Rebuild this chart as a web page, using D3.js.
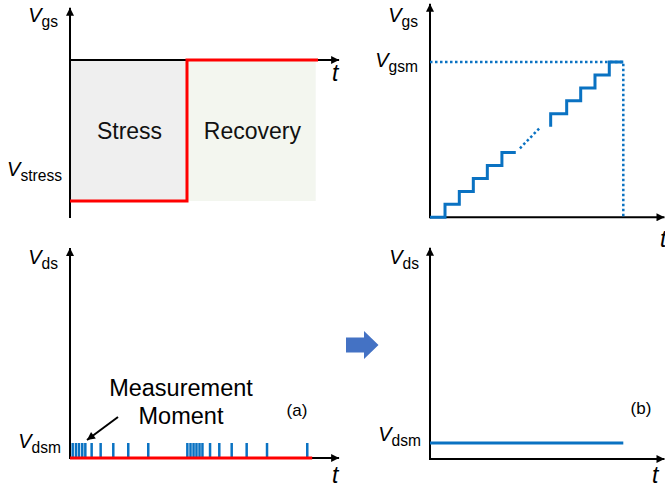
<!DOCTYPE html>
<html>
<head>
<meta charset="utf-8">
<script src="https://cdn.jsdelivr.net/npm/d3@7"></script>
<style>
  body { margin: 0; background: #fff; }
  svg { display: block; font-family: "Liberation Sans", Arial, sans-serif; }
</style>
</head>
<body>
<div id="app"></div>
<script>
// (a) stress / recovery: gate pulse, time in units of the stress length
const gateTimes = [0, 1, 1, 2.12];
const gateLevels = [-1, -1, 0, 0];
const phaseNames = ['Stress', 'Recovery'];
const phaseStarts = [0, 1];
const phaseEnds = [1, 2.1];
// moments where Vds is pulsed to Vdsm
const measureTimes = [0.023, 0.051, 0.077, 0.105, 0.131, 0.185, 0.262, 0.37, 0.498, 0.669,
  1.003, 1.03, 1.056, 1.081, 1.107, 1.132, 1.197, 1.276, 1.382, 1.51, 1.684, 2.028];
const drainTimes = [0, 2.07];
const drainLevels = [0, 0];

// (b) staircase sweep of Vgs up to Vgsm, Vds held at Vdsm
const sweepLowTimes = [0, 1.05, 2.05, 3.03, 4.01, 5.03, 6.0];
const sweepLowLevels = [0, 0, 1, 2, 3, 4, 5];
const sweepHighTimes = [8.44, 9.56, 10.54, 11.54, 12.54, 13.52];
const sweepHighLevels = [7, 8, 9, 10, 11, 12];
const gapTimes = [6.29, 7.69];
const gapLevels = [5.33, 6.92];
const sweepEnd = 13.52;
const gsmLevel = 12;
const dsmTimes = [0, 13.52];
const dsmLevels = [1, 1];

const BLUE = '#0a72c2';
const RED = '#ff0000';

const svg = d3.select('#app').append('svg')
  .attr('width', 665)
  .attr('height', 491);

svg.append('defs').append('marker')
  .attr('id', 'head')
  .attr('viewBox', '0 0 10 10')
  .attr('refX', 10).attr('refY', 5)
  .attr('markerUnits', 'userSpaceOnUse')
  .attr('markerWidth', 10).attr('markerHeight', 8)
  .attr('orient', 'auto')
  .append('path')
    .attr('d', 'M0,0L10,5L0,10Z')
    .attr('fill', '#000');

const arrowLine = (x1, y1, x2, y2, w = 2) =>
  svg.append('line')
    .attr('x1', x1).attr('y1', y1).attr('x2', x2).attr('y2', y2)
    .attr('stroke', '#000').attr('stroke-width', w)
    .attr('marker-end', 'url(#head)');

// V with a subscript, right aligned at x
const vLabel = (x, y, sub, size = 20) => {
  const t = svg.append('text')
    .attr('x', x).attr('y', y)
    .attr('text-anchor', 'end')
    .attr('font-size', size);
  t.append('tspan').attr('font-style', 'italic').text('V');
  t.append('tspan').attr('font-size', size * 0.78).attr('dy', 5).text(sub);
};

const tLabel = (x, y) =>
  svg.append('text')
    .attr('x', x).attr('y', y)
    .attr('font-size', 23).attr('font-style', 'italic')
    .text('t');

// ---------- top left: gate pulse ----------
const xA = d3.scaleLinear().domain([0, 1]).range([70, 187]);
const yG = d3.scaleLinear().domain([-1, 0]).range([201, 60]);

svg.selectAll('rect.phase')
  .data(phaseNames)
  .enter()
  .append('rect')
    .attr('class', 'phase')
    .attr('x', (d, i) => xA(phaseStarts[i]))
    .attr('width', (d, i) => xA(phaseEnds[i]) - xA(phaseStarts[i]))
    .attr('y', yG(0))
    .attr('height', yG(-1) - yG(0))
    .attr('fill', (d, i) => i === 0 ? '#efefef' : '#f3f6ef');

svg.selectAll('text.phase')
  .data(phaseNames)
  .enter()
  .append('text')
    .attr('class', 'phase')
    .attr('x', (d, i) => (xA(phaseStarts[i]) + xA(phaseEnds[i])) / 2 + 1)
    .attr('y', yG(-0.56))
    .attr('text-anchor', 'middle')
    .attr('font-size', 23)
    .attr('fill', '#111')
    .text(d => d);

arrowLine(xA(0), yG(-1.12), xA(0), yG(0.37));
arrowLine(xA(0), yG(0), xA(2.3), yG(0));

svg.append('path')
  .attr('d', d3.line()(gateTimes.map((t, i) => [xA(t), yG(gateLevels[i])])))
  .attr('fill', 'none')
  .attr('stroke', RED)
  .attr('stroke-width', 3);

vLabel(58, 22, 'gs');
vLabel(62, 176, 'stress');
tLabel(332, 81);

// ---------- bottom left: measurement moments ----------
const yD = d3.scaleLinear().domain([0, 1]).range([458, 443]);

arrowLine(xA(0), yD(0) + 1, xA(0), yD(14));
arrowLine(xA(0), yD(0), xA(2.3), yD(0));

svg.selectAll('line.moment')
  .data(measureTimes)
  .enter()
  .append('line')
    .attr('class', 'moment')
    .attr('x1', d => xA(d)).attr('x2', d => xA(d))
    .attr('y1', yD(0)).attr('y2', yD(1))
    .attr('stroke', BLUE)
    .attr('stroke-width', 2.5);

svg.append('path')
  .attr('d', d3.line()(drainTimes.map((t, i) => [xA(t), yD(drainLevels[i])])))
  .attr('stroke', RED)
  .attr('stroke-width', 3);

vLabel(58, 264, 'ds');
vLabel(61, 448, 'dsm');
tLabel(332, 483);

svg.append('text')
  .attr('x', 181).attr('y', 396)
  .attr('text-anchor', 'middle')
  .attr('font-size', 23.5)
  .text('Measurement');
svg.append('text')
  .attr('x', 181).attr('y', 424)
  .attr('text-anchor', 'middle')
  .attr('font-size', 23.5)
  .text('Moment');
svg.append('text')
  .attr('x', 297).attr('y', 416)
  .attr('text-anchor', 'middle')
  .attr('font-size', 17)
  .text('(a)');
arrowLine(118, 417, 87, 440, 2);

// ---------- top right: staircase ----------
const xB = d3.scaleLinear().domain([0, sweepEnd]).range([430, 623.3]);
const yS = d3.scaleLinear().domain([0, gsmLevel]).range([217.3, 62]);

arrowLine(xB(0), yS(0) + 1, xB(0), yS(16.5));
arrowLine(xB(0), yS(0), xB(16.4), yS(0));

const stair = d3.line().curve(d3.curveStepBefore);
[[sweepLowTimes, sweepLowLevels], [sweepHighTimes, sweepHighLevels]].forEach(([ts, ls]) => {
  svg.append('path')
    .attr('d', stair(ts.map((t, i) => [xB(t), yS(ls[i])])))
    .attr('fill', 'none')
    .attr('stroke', BLUE)
    .attr('stroke-width', 3);
});

const dotted = (pts) =>
  svg.append('path')
    .attr('d', d3.line()(pts))
    .attr('fill', 'none')
    .attr('stroke', BLUE)
    .attr('stroke-width', 2.5)
    .attr('stroke-dasharray', '2.5 2.5');

dotted(gapTimes.map((t, i) => [xB(t), yS(gapLevels[i])]));
dotted([[xB(0), yS(gsmLevel)], [xB(sweepEnd), yS(gsmLevel)], [xB(sweepEnd), yS(0)]]);

vLabel(418, 22, 'gs');
vLabel(418, 67, 'gsm');
tLabel(660, 247);

// ---------- bottom right: constant Vdsm ----------
const yE = d3.scaleLinear().domain([0, 1]).range([459, 443]);

arrowLine(xB(0), yE(0) + 1, xB(0), yE(13.2));
arrowLine(xB(0), yE(0), xB(16.4), yE(0));

svg.append('path')
  .attr('d', d3.line()(dsmTimes.map((t, i) => [xB(t), yE(dsmLevels[i])])))
  .attr('stroke', BLUE)
  .attr('stroke-width', 3);

vLabel(419, 264, 'ds');
vLabel(421, 441, 'dsm');
tLabel(652, 483);
svg.append('text')
  .attr('x', 641).attr('y', 414)
  .attr('text-anchor', 'middle')
  .attr('font-size', 17)
  .text('(b)');

// block arrow between the two schemes
svg.append('path')
  .attr('d', 'M346,337.5H364V331L378.5,345L364,359V352.5H346Z')
  .attr('fill', '#4472c4');
</script>
</body>
</html>
